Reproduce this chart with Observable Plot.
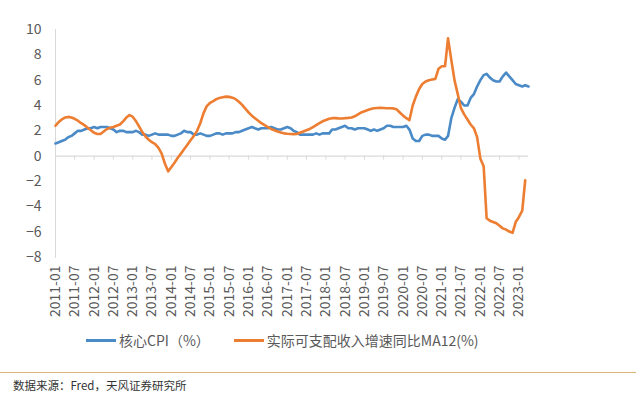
<!DOCTYPE html>
<html>
<head>
<meta charset="utf-8">
<script src="https://cdn.jsdelivr.net/npm/d3@7"></script>
<script src="https://cdn.jsdelivr.net/npm/@observablehq/plot@0.6"></script>
<style>
  body { margin: 0; background: #fff; font-family: "Noto Sans CJK SC", "Noto Sans", sans-serif; }
  #wrap { position: relative; width: 640px; height: 395px; overflow: hidden; }
  #legend { position: absolute; top: 330px; left: 86px; display: flex; align-items: center; font-size: 14px; color: #595959; white-space: nowrap; }
  .sw { display: inline-block; width: 30px; height: 3px; margin-right: 3px; }
  .item { display: flex; align-items: center; }
  #rule { position: absolute; top: 372px; left: 0; width: 636px; height: 0; border-top: 1px solid #d9b27c; }
  #caption { position: absolute; top: 377px; left: 13px; font-size: 11.5px; color: #333; white-space: nowrap; }
</style>
</head>
<body>
<div id="wrap">
  <div id="chart"></div>
  <div id="legend"></div>
  <div id="rule"></div>
  <div id="caption"></div>
</div>
<script>
const startMonth = "2011-01";
const seriesNames = ["核心CPI（%）", "实际可支配收入增速同比MA12(%)"];
const seriesColors = ["#4a8ac6", "#ed7d31"];
const xTickLabels = ["2011-01","2011-07","2012-01","2012-07","2013-01","2013-07","2014-01","2014-07","2015-01","2015-07","2016-01","2016-07","2017-01","2017-07","2018-01","2018-07","2019-01","2019-07","2020-01","2020-07","2021-01","2021-07","2022-01","2022-07","2023-01"];
const yTickValues = [-8,-6,-4,-2,0,2,4,6,8,10];
const captionText = "数据来源：Fred，天风证券研究所";

// Core CPI YoY, monthly from 2011-01
const coreCPI = [
  1.0,1.1,1.2,1.3,1.5,1.6,1.8,2.0,2.0,2.1,2.2,2.2,
  2.3,2.2,2.3,2.3,2.3,2.2,2.1,1.9,2.0,2.0,1.9,1.9,
  1.9,2.0,1.9,1.7,1.7,1.6,1.7,1.8,1.7,1.7,1.7,1.7,
  1.6,1.6,1.7,1.8,2.0,1.9,1.9,1.7,1.7,1.8,1.7,1.6,
  1.6,1.7,1.8,1.8,1.7,1.8,1.8,1.8,1.9,1.9,2.0,2.1,
  2.2,2.3,2.2,2.1,2.2,2.2,2.2,2.3,2.2,2.1,2.1,2.2,
  2.3,2.2,2.0,1.9,1.7,1.7,1.7,1.7,1.7,1.8,1.7,1.8,
  1.8,1.8,2.1,2.1,2.2,2.3,2.4,2.2,2.2,2.1,2.2,2.2,
  2.2,2.1,2.0,2.1,2.0,2.1,2.2,2.4,2.4,2.3,2.3,2.3,
  2.3,2.4,2.1,1.4,1.2,1.2,1.6,1.7,1.7,1.6,1.6,1.6,
  1.4,1.3,1.6,3.0,3.8,4.5,4.3,4.0,4.0,4.6,4.9,5.5,
  6.0,6.4,6.5,6.2,6.0,5.9,5.9,6.3,6.6,6.3,6.0,5.7,
  5.6,5.5,5.6,5.5
];

// Real disposable income YoY, 12-month moving average, monthly from 2011-01
const realIncome = [
  2.4,2.7,2.9,3.05,3.1,3.05,2.95,2.8,2.6,2.45,2.25,2.05,
  1.85,1.75,1.75,1.95,2.15,2.25,2.3,2.4,2.5,2.75,3.05,3.25,
  3.1,2.75,2.35,1.9,1.55,1.3,1.1,0.95,0.65,0.2,-0.6,-1.2,
  -0.85,-0.5,-0.15,0.2,0.55,0.9,1.25,1.6,2.0,2.6,3.4,3.95,
  4.2,4.35,4.5,4.6,4.65,4.7,4.68,4.62,4.5,4.3,4.05,3.75,
  3.45,3.2,3.0,2.8,2.6,2.45,2.3,2.15,2.05,1.95,1.87,1.8,
  1.77,1.75,1.74,1.75,1.85,1.95,2.05,2.15,2.3,2.45,2.6,2.75,
  2.85,2.95,3.0,3.0,2.98,2.97,3.0,3.02,3.05,3.15,3.3,3.45,
  3.55,3.65,3.72,3.78,3.8,3.82,3.8,3.78,3.78,3.77,3.7,3.45,
  3.2,3.0,2.85,4.0,4.7,5.3,5.7,5.9,6.0,6.05,6.1,6.9,
  7.1,7.1,9.3,7.6,6.0,4.9,3.8,3.3,2.9,2.5,2.2,1.5,
  -0.2,-0.8,-4.9,-5.1,-5.2,-5.3,-5.5,-5.7,-5.8,-5.95,-6.05,-5.2,
  -4.8,-4.3,-1.9
];

const parseMonth = d3.utcParse("%Y-%m");
const start = parseMonth(startMonth);
const toRows = (vals) => vals.map((v, i) => ({date: d3.utcMonth.offset(start, i), value: v}));
const coreRows = toRows(coreCPI);
const incomeRows = toRows(realIncome);
const xTicks = xTickLabels.map(parseMonth);
const xEnd = d3.utcMonth.offset(start, coreCPI.length - 1);

const chart = Plot.plot({
  width: 640,
  height: 322,
  marginLeft: 55,
  marginRight: 112,
  marginTop: 29,
  marginBottom: 65,
  style: {fontFamily: "'Noto Sans CJK SC', 'Noto Sans', sans-serif", color: "#595959", background: "#fff"},
  x: {type: "utc", domain: [start, xEnd], label: null},
  y: {domain: [-8, 10], label: null},
  marks: [
    Plot.frame({anchor: "left", stroke: "#d9d9d9"}),
    Plot.ruleY([0], {stroke: "#d9d9d9", strokeWidth: 1.3}),
    Plot.ruleX(xTicks, {x: d => d, y1: 0, y2: 0, insetTop: 0, insetBottom: -4, stroke: "#d9d9d9"}),
    Plot.axisX(xTicks, {tickFormat: d3.utcFormat("%Y-%m"), tickRotate: -90, tickSize: 0, tickPadding: 8, fontSize: 14, fill: "#595959", label: null}),
    Plot.axisY(yTickValues, {tickSize: 0, tickPadding: 14, fontSize: 14, fill: "#595959", label: null}),
    Plot.line(coreRows, {x: "date", y: "value", stroke: seriesColors[0], strokeWidth: 2.6}),
    Plot.line(incomeRows, {x: "date", y: "value", stroke: seriesColors[1], strokeWidth: 2.6})
  ]
});
document.getElementById("chart").appendChild(chart);

const legend = document.getElementById("legend");
seriesNames.forEach((name, i) => {
  const item = document.createElement("span");
  item.className = "item";
  item.style.marginRight = i === 0 ? "24px" : "0";
  const sw = document.createElement("span");
  sw.className = "sw";
  sw.style.background = seriesColors[i];
  const t = document.createElement("span");
  t.textContent = name;
  item.appendChild(sw);
  item.appendChild(t);
  legend.appendChild(item);
});
document.getElementById("caption").textContent = captionText;
</script>
</body>
</html>
